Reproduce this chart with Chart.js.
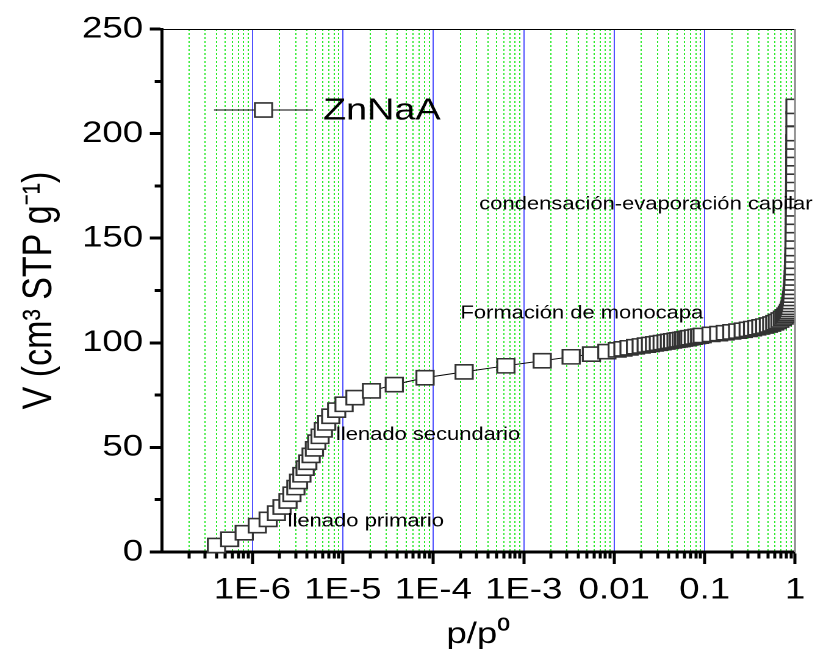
<!DOCTYPE html>
<html><head><meta charset="utf-8">
<script src="https://cdn.jsdelivr.net/npm/chart.js@4.4.1/dist/chart.umd.min.js"></script>
<style>
html,body{margin:0;padding:0;background:#fff;overflow:hidden}
</style>
</head><body>
<canvas id="c" width="668" height="657" style="display:block;width:815px;height:657px"></canvas>
<script>
// ---- data ----
const seriesLabel = 'ZnNaA';
const pressure = [
  4.0e-7, 5.6e-7, 8.1e-7, 1.13e-6, 1.49e-6, 1.84e-6, 2.12e-6, 2.47e-6, 2.73e-6, 3.02e-6,
  3.23e-6, 3.52e-6, 3.82e-6, 4.09e-6, 4.45e-6, 4.84e-6, 5.14e-6, 5.59e-6, 6.08e-6, 6.62e-6,
  7.33e-6, 8.53e-6, 1.03e-5, 1.36e-5, 2.07e-5, 3.70e-5, 8.1e-5, 2.19e-4, 6.34e-4, 1.6e-3,
  3.34e-3, 5.6e-3, 8.3e-3, 0.0108, 0.0125, 0.0146, 0.0172, 0.0199, 0.0226, 0.0252,
  0.0279, 0.0308, 0.0339, 0.0375, 0.0408, 0.0443, 0.0483, 0.0515, 0.0552, 0.0585,
  0.0621, 0.0653, 0.0687, 0.075, 0.082, 0.088, 0.094, 0.118, 0.143, 0.169,
  0.2, 0.232, 0.267, 0.303, 0.339, 0.378, 0.418, 0.462, 0.507, 0.552,
  0.596, 0.637, 0.68, 0.723, 0.76, 0.79, 0.82, 0.845, 0.865, 0.88,
  0.895, 0.905, 0.915, 0.925, 0.933, 0.94, 0.946, 0.952, 0.957, 0.962,
  0.966, 0.97, 0.974, 0.977, 0.98, 0.982, 0.984, 0.986, 0.988, 0.989,
  0.99, 0.991, 0.992, 0.993, 0.994, 0.995, 0.996, 0.997, 0.998
];
const volume = [
  3.1, 6.1, 9.2, 12.6, 15.6, 18.6, 21.5, 24.4, 27.6, 30.8,
  33.7, 36.9, 40.1, 42.9, 46.2, 49.3, 52.5, 55.3, 58.4, 61.7,
  64.9, 67.8, 70.6, 73.8, 77.0, 80.0, 83.3, 86.1, 89.0, 91.4,
  93.3, 94.6, 95.8, 96.6, 97.1, 97.6, 98.1, 98.5, 98.9, 99.2,
  99.5, 99.8, 100.1, 100.4, 100.7, 100.9, 101.2, 101.4, 101.6, 101.8,
  102.0, 102.2, 102.4, 102.7, 103.0, 103.2, 103.5, 104.0, 104.4, 104.8,
  105.2, 105.6, 106.0, 106.4, 106.8, 107.2, 107.6, 108.0, 108.5, 109.0,
  109.6, 110.2, 110.9, 111.7, 112.4, 113.2, 114.0, 114.9, 115.9, 117.0,
  118.3, 119.7, 121.2, 122.8, 124.6, 126.5, 128.6, 131, 133.5, 136,
  139, 142, 145, 148.5, 152, 156, 160, 164, 168, 172,
  176, 180, 184, 188, 192, 196, 200, 207, 213
];
const xMin = 1e-7, xMax = 1;
const xMajorTicks = [1e-6, 1e-5, 1e-4, 1e-3, 0.01, 0.1, 1];
const xTickLabels = ['1E-6', '1E-5', '1E-4', '1E-3', '0.01', '0.1', '1'];
const yMin = 0, yMax = 250, yStep = 25;
const yLabelStep = 50;
const xTitle = 'p/p\u2070';
const yTitle = 'V (cm\u00B3 STP g\u207B\u00B9)';
const annotationTexts = ['condensación-evaporación capilar', 'Formación de monocapa', 'llenado secundario', 'llenado primario'];
const annotationP = [3.22e-4, 1.99e-4, 8.37e-6, 2.45e-6];
const annotationV = [163.8, 111.7, 53.5, 12.1];

// ---- helpers ----
const FONT = "'Liberation Sans', Arial, sans-serif";
const isDecade = v => Math.abs(Math.log10(v) - Math.round(Math.log10(v))) < 1e-6;
const allXTicks = [];
for (let k = -7; k <= -1; k++) {
  for (let m = 1; m <= 9; m++) {
    const v = m * Math.pow(10, k);
    if (v > xMin * 1.0001) allXTicks.push(v);
  }
}
allXTicks.push(xMax);
function labelFor(v) {
  for (let i = 0; i < xMajorTicks.length; i++) {
    if (Math.abs(v / xMajorTicks[i] - 1) < 1e-6) return xTickLabels[i];
  }
  return '';
}

const points = pressure.map((p, i) => ({x: p, y: volume[i]}));
const MARKER_R = 10;

const extrasPlugin = {
  id: 'extras',
  afterDatasetsDraw(chart) {
    const {ctx, chartArea: a, scales} = chart;
    ctx.save();
    ctx.strokeStyle = '#000'; ctx.lineWidth = 1;
    ctx.beginPath(); ctx.moveTo(a.left, a.top + 0.5); ctx.lineTo(a.right, a.top + 0.5); ctx.stroke();
    ctx.strokeStyle = '#888'; ctx.lineWidth = 1.4;
    ctx.beginPath(); ctx.moveTo(a.right, a.top); ctx.lineTo(a.right, a.bottom); ctx.stroke();
    ctx.fillStyle = '#000';
    ctx.font = '18px ' + FONT;
    ctx.textAlign = 'left'; ctx.textBaseline = 'alphabetic';
    annotationTexts.forEach((t, i) => {
      ctx.fillText(t, scales.x.getPixelForValue(annotationP[i]), scales.y.getPixelForValue(annotationV[i]));
    });
    const ly = 110, lx1 = 175.4, lx2 = 256.5, mx = 216;
    ctx.strokeStyle = '#000'; ctx.lineWidth = 1;
    ctx.beginPath(); ctx.moveTo(lx1, ly); ctx.lineTo(lx2, ly); ctx.stroke();
    const s = MARKER_R * Math.SQRT1_2;
    ctx.fillStyle = '#fff'; ctx.strokeStyle = '#333'; ctx.lineWidth = 1.6;
    ctx.beginPath(); ctx.rect(mx - s, ly - s, 2 * s, 2 * s); ctx.fill(); ctx.stroke();
    ctx.fillStyle = '#000';
    ctx.font = '31px ' + FONT;
    ctx.textBaseline = 'middle';
    ctx.fillText(chart.data.datasets[0].label, 264.7, ly + 1);
    ctx.restore();
  }
};

new Chart(document.getElementById('c'), {
  type: 'line',
  data: {
    datasets: [{
      label: seriesLabel,
      data: points,
      borderColor: '#000',
      borderWidth: 1,
      tension: 0,
      pointStyle: 'rect',
      pointRadius: MARKER_R,
      pointHoverRadius: MARKER_R,
      pointBorderWidth: 1.6,
      pointBorderColor: '#333',
      pointBackgroundColor: '#fff',
      clip: {left: 10, top: 10, right: 0, bottom: 10}
    }]
  },
  options: {
    responsive: false,
    devicePixelRatio: 2,
    animation: false,
    events: [],
    layout: {padding: {left: 0, right: 14, top: 29, bottom: 0}},
    plugins: {legend: {display: false}, tooltip: {enabled: false}},
    scales: {
      x: {
        type: 'logarithmic',
        position: 'bottom',
        min: xMin, max: xMax,
        afterBuildTicks: scale => { scale.ticks = allXTicks.map(v => ({value: v, major: isDecade(v)})); },
        afterFit: scale => { scale.height = 105; },
        grid: {
          drawOnChartArea: true,
          color: c => (c.tick && isDecade(c.tick.value)) ? (c.tick.value >= xMax ? 'rgba(0,0,0,0)' : '#2a2aff') : '#00e600',
          lineWidth: 0.82,
          tickColor: '#000',
          tickWidth: 2.5,
          tickLength: 12,
          tickBorderDash: c => (c.tick && isDecade(c.tick.value)) ? [] : [5, 30]
        },
        border: {
          display: true, color: '#000', width: 3,
          dash: c => (c.tick && isDecade(c.tick.value)) ? [] : [2, 2]
        },
        ticks: {
          autoSkip: false, maxRotation: 0, minRotation: 0,
          padding: 8, color: '#000',
          font: {family: FONT, size: 30},
          callback: v => labelFor(v)
        },
        title: {
          display: true, text: xTitle, color: '#000',
          font: {family: FONT, size: 30},
          padding: {top: 0, bottom: 4.4}
        }
      },
      y: {
        type: 'linear',
        position: 'left',
        min: yMin, max: yMax,
        afterFit: scale => { scale.width = 132.8; },
        ticks: {
          stepSize: yStep, color: '#000', padding: 5.5,
          font: {family: FONT, size: 30},
          callback: v => (v % yLabelStep === 0 ? String(v) : '')
        },
        grid: {
          drawOnChartArea: false,
          tickColor: '#000',
          tickWidth: 3,
          tickLength: 10,
          tickBorderDash: c => (c.tick && c.tick.value % yLabelStep === 0) ? [] : [0, 4, 10, 20]
        },
        border: {display: true, color: '#000', width: 2.5},
        title: {
          display: true, text: yTitle, color: '#000',
          font: {family: FONT, size: 34},
          padding: {top: 12, bottom: 0}
        }
      }
    }
  },
  plugins: [extrasPlugin]
});
</script>
</body></html>
